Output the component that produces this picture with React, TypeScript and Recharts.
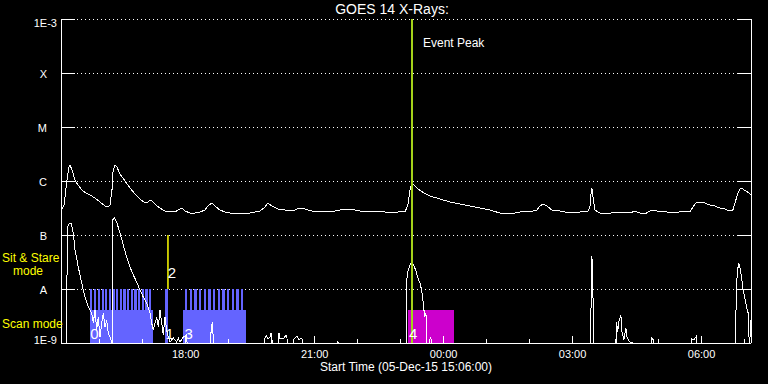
import React from "react";
import {
  ComposedChart,
  Line,
  XAxis,
  YAxis,
  CartesianGrid,
  ReferenceArea,
  ReferenceLine,
  ReferenceDot,
} from "recharts";

// time axis: hours after 05-Dec-15 15:06:00
const timeDomain = [0, 16.05];
const hourTicks = [0.9, 1.9, 2.9, 3.9, 4.9, 5.9, 6.9, 7.9, 8.9, 9.9, 10.9, 11.9, 12.9, 13.9, 14.9, 15.9];
const hourLabels = ["16:00", "17:00", "18:00", "19:00", "20:00", "21:00", "22:00", "23:00", "00:00", "01:00", "02:00", "03:00", "04:00", "05:00", "06:00", "07:00"];
const majorLabels = ["18:00", "21:00", "00:00", "03:00", "06:00"];

const fluxTicks = [1e-9, 1e-8, 1e-7, 1e-6, 1e-5, 1e-4, 1e-3];
const fluxLabels = ["1E-9", "A", "B", "C", "M", "X", "1E-3"];

// GOES long channel (1-8 A)
const longTime = [0, 0.07, 0.14, 0.186, 0.209, 0.256, 0.326, 0.395, 0.488, 0.581, 0.674, 0.791, 0.907, 1.023, 1.093, 1.14, 1.186, 1.209, 1.256, 1.302, 1.372, 1.488, 1.605, 1.721, 1.837, 1.93, 2.0, 2.07, 2.116, 2.209, 2.302, 2.419, 2.535, 2.651, 2.767, 2.814, 2.884, 3.0, 3.116, 3.233, 3.349, 3.419, 3.512, 3.581, 3.698, 3.814, 3.93, 4.163, 4.395, 4.512, 4.628, 4.744, 4.814, 4.907, 5.047, 5.209, 5.372, 5.558, 5.674, 5.837, 6.023, 6.256, 6.488, 6.721, 6.953, 7.186, 7.419, 7.651, 7.837, 8.0, 8.07, 8.116, 8.163, 8.209, 8.302, 8.442, 8.581, 8.814, 9.047, 9.279, 9.512, 9.744, 9.977, 10.209, 10.442, 10.674, 10.907, 11.07, 11.14, 11.209, 11.302, 11.419, 11.605, 11.837, 12.07, 12.256, 12.302, 12.326, 12.349, 12.372, 12.419, 12.535, 12.698, 12.884, 13.0, 13.116, 13.233, 13.349, 13.465, 13.581, 13.698, 13.814, 13.93, 14.047, 14.163, 14.395, 14.628, 14.698, 14.767, 14.86, 14.977, 15.093, 15.209, 15.326, 15.442, 15.558, 15.628, 15.698, 15.744, 15.791, 15.86, 15.93, 16.0, 16.047];
const longFlux = [2.78e-7, 3.59e-7, 1.04e-6, 1.82e-6, 1.98e-6, 1.6e-6, 1.04e-6, 8.43e-7, 6.81e-7, 6.0e-7, 5.51e-7, 4.84e-7, 4.09e-7, 3.44e-7, 3.3e-7, 3.59e-7, 6.81e-7, 1.47e-6, 1.98e-6, 1.82e-6, 1.35e-6, 1.0e-6, 7.41e-7, 5.74e-7, 4.64e-7, 4.09e-7, 3.92e-7, 4.45e-7, 4.27e-7, 3.59e-7, 3.16e-7, 2.78e-7, 2.67e-7, 2.67e-7, 3.03e-7, 3.16e-7, 2.78e-7, 2.55e-7, 2.55e-7, 2.67e-7, 2.9e-7, 3.44e-7, 3.92e-7, 3.44e-7, 2.9e-7, 2.67e-7, 2.55e-7, 2.55e-7, 2.55e-7, 2.67e-7, 2.78e-7, 3.3e-7, 3.92e-7, 3.44e-7, 3.03e-7, 2.9e-7, 2.78e-7, 3.16e-7, 3.03e-7, 2.78e-7, 2.78e-7, 2.67e-7, 2.9e-7, 3.03e-7, 2.78e-7, 2.67e-7, 2.78e-7, 2.55e-7, 2.67e-7, 2.67e-7, 3.59e-7, 6.81e-7, 9.18e-7, 8.43e-7, 7.11e-7, 6.0e-7, 5.28e-7, 4.64e-7, 4.09e-7, 3.75e-7, 3.44e-7, 3.16e-7, 2.9e-7, 2.55e-7, 2.45e-7, 2.67e-7, 2.67e-7, 2.9e-7, 3.44e-7, 3.75e-7, 3.44e-7, 2.9e-7, 2.78e-7, 2.55e-7, 2.67e-7, 2.78e-7, 3.16e-7, 5.51e-7, 7.41e-7, 5.28e-7, 2.9e-7, 2.55e-7, 2.45e-7, 2.67e-7, 2.55e-7, 2.67e-7, 2.55e-7, 2.78e-7, 2.55e-7, 2.45e-7, 2.78e-7, 2.9e-7, 2.67e-7, 2.78e-7, 2.55e-7, 2.67e-7, 2.67e-7, 3.3e-7, 3.92e-7, 3.92e-7, 3.92e-7, 3.59e-7, 3.44e-7, 3.16e-7, 3.03e-7, 2.78e-7, 2.9e-7, 4.45e-7, 6.0e-7, 7.11e-7, 7.11e-7, 6.53e-7, 6.0e-7, 5.51e-7];

// GOES short channel (0.5-4 A); 5e-10 marks values under the plot floor
const shortTime = [0, 0.128, 0.147, 0.186, 0.233, 0.286, 0.326, 0.402, 0.481, 0.558, 0.635, 0.714, 0.751, 0.791, 0.83, 0.867, 0.907, 0.947, 0.984, 1.023, 1.063, 1.1, 1.14, 1.179, 1.186, 1.198, 1.24, 1.295, 1.372, 1.449, 1.528, 1.605, 1.681, 1.76, 1.837, 1.914, 1.993, 2.07, 2.109, 2.147, 2.226, 2.263, 2.302, 2.342, 2.379, 2.419, 2.458, 2.495, 2.535, 2.612, 2.691, 2.728, 2.767, 2.845, 2.923, 2.953, 3.465, 3.488, 3.519, 3.535, 3.558, 4.721, 4.744, 4.779, 4.814, 4.86, 4.884, 4.907, 4.93, 5.058, 5.07, 5.093, 5.186, 5.233, 5.256, 5.302, 5.419, 5.488, 5.535, 5.605, 5.651, 6.43, 6.442, 6.465, 8.023, 8.04, 8.077, 8.14, 8.193, 8.249, 8.295, 8.349, 8.388, 8.426, 8.442, 8.465, 8.481, 8.505, 8.519, 8.581, 8.605, 8.628, 12.309, 12.319, 12.349, 12.372, 12.388, 12.914, 12.923, 12.947, 12.977, 13.023, 13.047, 13.093, 13.14, 13.17, 13.233, 13.302, 13.326, 13.721, 13.744, 13.779, 13.814, 14.663, 14.674, 14.721, 14.784, 14.802, 15.686, 15.691, 15.714, 15.737, 15.767, 15.791, 15.83, 15.867, 15.907, 15.947, 15.984, 16.0, 16.016, 16.035, 16.047];
const shortFlux = [5e-10, 5e-10, 1.4e-7, 1.6e-7, 1.67e-7, 1.09e-7, 5.28e-8, 2.55e-8, 1.29e-8, 7.11e-9, 4.64e-9, 3.59e-9, 2.35e-9, 4.09e-9, 1.74e-9, 3.03e-9, 1.29e-9, 2.35e-9, 3.59e-9, 1.98e-9, 2.67e-9, 1.53e-9, 1.29e-9, 1.04e-9, 5e-10, 1.9e-7, 2.07e-7, 1.74e-7, 1.09e-7, 6.53e-8, 3.9e-8, 2.55e-8, 1.82e-8, 1.35e-8, 9.58e-9, 7.11e-9, 5.51e-9, 3.59e-9, 2.35e-9, 1.74e-9, 3.03e-9, 1.98e-9, 4.09e-9, 2.35e-9, 1.41e-9, 3.03e-9, 1.74e-9, 1.29e-9, 1.04e-9, 1.24e-9, 1.04e-9, 1.24e-9, 1.04e-9, 1.29e-9, 1.41e-9, 5e-10, 5e-10, 1.53e-9, 2.45e-9, 1.53e-9, 5e-10, 5e-10, 1.24e-9, 1.35e-9, 1.19e-9, 1.29e-9, 1.53e-9, 1.19e-9, 5e-10, 5e-10, 1.53e-9, 1.19e-9, 1.24e-9, 1.41e-9, 1.24e-9, 5e-10, 1.19e-9, 1.35e-9, 1.14e-9, 1.24e-9, 5e-10, 5e-10, 1.09e-9, 5e-10, 5e-10, 1.47e-8, 2.25e-8, 3.03e-8, 2.9e-8, 2.25e-8, 1.67e-8, 1.29e-8, 9.58e-9, 5.51e-9, 4.09e-9, 3.03e-9, 3.59e-9, 2.9e-9, 5e-10, 1.19e-9, 1.29e-9, 5e-10, 5e-10, 1.6e-9, 4.09e-8, 1.29e-8, 5e-10, 5e-10, 2.45e-9, 1.6e-9, 2.5e-9, 3.3e-9, 1.6e-9, 1.14e-9, 1.9e-9, 1.24e-9, 1.04e-9, 1.04e-9, 5e-10, 5e-10, 1.24e-9, 1.14e-9, 5e-10, 5e-10, 1.19e-9, 1.14e-9, 1.35e-9, 5e-10, 5e-10, 1.74e-9, 1.19e-8, 2.25e-8, 3.03e-8, 2.55e-8, 1.67e-8, 9.58e-9, 6.81e-9, 4.64e-9, 3.59e-9, 1.74e-9, 5e-10, 2.67e-9, 2.2e-9];

// observing modes
const scanLevel = 4.1e-9;
const sitStareLevel = 1e-8;
const scanBlocks = [[0.674, 2.14], [2.837, 4.302]];
const sitStareBlocks = [[2.419, 2.495]];
const sitStareStarts = [0.674, 0.767, 0.853, 0.947, 1.023, 1.109, 1.193, 1.279, 1.365, 1.449, 1.535, 1.621, 1.705, 1.791, 1.877, 1.961, 2.047, 2.884, 2.993, 3.1, 3.209, 3.319, 3.426, 3.535, 3.644, 3.751, 3.86, 3.97, 4.077, 4.186];
const sitStareWidth = 0.056;
const eventBlock = [8.07, 9.14];
const eventTime = 8.17;
const marker2Time = 2.488;

const obsLabels = ["0", "1", "2", "3", "4"];
const obsLabelTime = [0.78, 2.53, 2.58, 2.97, 8.19];
const obsLabelFlux = [1.5e-9, 1.5e-9, 2.0e-8, 1.5e-9, 1.5e-9];

const longData = longTime.map((t, i) => ({ t, v: longFlux[i] }));
const shortData = shortTime.map((t, i) => ({ t, v: shortFlux[i] }));

const FONT = "'Liberation Sans', Arial, sans-serif";

function BottomTick(props: any) {
  const { x, y, payload } = props;
  const label = hourLabels[hourTicks.indexOf(payload.value)];
  const major = majorLabels.includes(label);
  return (
    <g>
      <line x1={x} x2={x} y1={y} y2={y - (major ? 7 : 4)} stroke="#fff" shapeRendering="crispEdges" />
      {major && (
        <text x={x} y={y + 15} textAnchor="middle" fill="#fff" fontSize={11} fontFamily={FONT}>
          {label}
        </text>
      )}
    </g>
  );
}

function TopTick(props: any) {
  const { x, y, payload } = props;
  const label = hourLabels[hourTicks.indexOf(payload.value)];
  const major = majorLabels.includes(label);
  return <line x1={x} x2={x} y1={y} y2={y + (major ? 7 : 4)} stroke="#fff" shapeRendering="crispEdges" />;
}

function LeftTick(props: any) {
  const { x, y, payload } = props;
  const i = fluxTicks.indexOf(payload.value);
  const label = fluxLabels[i];
  const numeric = label.startsWith("1E");
  let ty = y + 4.5;
  if (i === 0) ty = y + 0.5;
  if (i === fluxTicks.length - 1) ty = y + 8;
  return (
    <g>
      <line x1={x} x2={x + 14} y1={y} y2={y} stroke="#fff" shapeRendering="crispEdges" />
      <text x={numeric ? x - 4 : x - 14} y={ty} textAnchor="end" fill="#fff" fontSize={11} fontFamily={FONT}>
        {label}
      </text>
    </g>
  );
}

function RightTick(props: any) {
  const { x, y } = props;
  return <line x1={x - 14} x2={x} y1={y} y2={y} stroke="#fff" shapeRendering="crispEdges" />;
}

export default function App() {
  return (
    <div style={{ position: "absolute", left: 0, top: 0, width: 768, height: 384, background: "#000", fontFamily: FONT }}>
      <ComposedChart width={768} height={384} margin={{ top: 19, right: 0, bottom: 0, left: 0 }}>
        <CartesianGrid vertical={false} stroke="#fff" strokeDasharray="1 3" shapeRendering="crispEdges" />
        <XAxis
          type="number"
          dataKey="t"
          domain={timeDomain}
          ticks={hourTicks}
          interval={0}
          allowDataOverflow
          height={41}
          tickSize={0}
          tickMargin={0}
          axisLine={{ stroke: "#fff", shapeRendering: "crispEdges" }}
          tickLine={false}
          tick={(p: any) => <BottomTick {...p} />}
        />
        <XAxis
          xAxisId="top"
          orientation="top"
          type="number"
          dataKey="t"
          domain={timeDomain}
          ticks={hourTicks}
          interval={0}
          allowDataOverflow
          height={0}
          tickSize={0}
          tickMargin={0}
          axisLine={{ stroke: "#fff", shapeRendering: "crispEdges" }}
          tickLine={false}
          tick={(p: any) => <TopTick {...p} />}
        />
        <YAxis
          type="number"
          scale="log"
          domain={[1e-9, 1e-3]}
          ticks={fluxTicks}
          interval={0}
          allowDataOverflow
          width={61}
          tickSize={0}
          tickMargin={0}
          axisLine={{ stroke: "#fff", shapeRendering: "crispEdges" }}
          tickLine={false}
          tick={(p: any) => <LeftTick {...p} />}
        />
        <YAxis
          yAxisId="right"
          orientation="right"
          type="number"
          scale="log"
          domain={[1e-9, 1e-3]}
          ticks={fluxTicks}
          interval={0}
          allowDataOverflow
          width={17}
          tickSize={0}
          tickMargin={0}
          axisLine={{ stroke: "#fff", shapeRendering: "crispEdges" }}
          tickLine={false}
          tick={(p: any) => <RightTick {...p} />}
        />

        {scanBlocks.map(([s, e], i) => (
          <ReferenceArea key={`scan${i}`} x1={s} x2={e} y1={1e-9} y2={scanLevel} fill="#6464ff" fillOpacity={1} stroke="none" shapeRendering="crispEdges" />
        ))}
        {sitStareBlocks.map(([s, e], i) => (
          <ReferenceArea key={`ss${i}`} x1={s} x2={e} y1={1e-9} y2={sitStareLevel} fill="#6464ff" fillOpacity={1} stroke="none" shapeRendering="crispEdges" />
        ))}
        {sitStareStarts.map((s, i) => (
          <ReferenceArea key={`st${i}`} x1={s} x2={s + sitStareWidth} y1={scanLevel} y2={sitStareLevel} fill="#6464ff" fillOpacity={1} stroke="none" shapeRendering="crispEdges" />
        ))}
        <ReferenceArea x1={eventBlock[0]} x2={eventBlock[1]} y1={1e-9} y2={scanLevel} fill="#cc00cc" fillOpacity={1} stroke="none" shapeRendering="crispEdges" />
        <ReferenceLine
          segment={[
            { x: marker2Time, y: 1e-7 },
            { x: marker2Time, y: sitStareLevel },
          ]}
          stroke="#ffff00"
          strokeWidth={1.5}
        />

        <Line data={longData} dataKey="v" type="linear" stroke="#fff" strokeWidth={1} dot={false} isAnimationActive={false} shapeRendering="crispEdges" />
        <Line data={shortData} dataKey="v" type="linear" stroke="#fff" strokeWidth={1} dot={false} isAnimationActive={false} shapeRendering="crispEdges" />

        <ReferenceLine x={eventTime} stroke="#a4d21a" strokeWidth={2} shapeRendering="crispEdges" />

        {obsLabels.map((lab, i) => (
          <ReferenceDot
            key={`lab${i}`}
            x={obsLabelTime[i]}
            y={obsLabelFlux[i]}
            r={0}
            fill="none"
            stroke="none"
            label={{ value: lab, position: "center", fill: "#fff", fontSize: 15, fontFamily: FONT }}
          />
        ))}
      </ComposedChart>
      <svg width={768} height={384} style={{ position: "absolute", left: 0, top: 0, pointerEvents: "none" }}>
        <text x={392} y={14} textAnchor="middle" fill="#fff" fontSize={14} fontFamily={FONT}>
          GOES 14 X-Rays:
        </text>
        <text x={406} y={371} textAnchor="middle" fill="#fff" fontSize={12} fontFamily={FONT}>
          Start Time (05-Dec-15 15:06:00)
        </text>
        <text x={423} y={47} fill="#fff" fontSize={12} fontFamily={FONT}>
          Event Peak
        </text>
        <text x={2} y={262} fill="#ffff00" fontSize={12} fontFamily={FONT}>
          Sit &amp; Stare
        </text>
        <text x={13} y={275} fill="#ffff00" fontSize={12} fontFamily={FONT}>
          mode
        </text>
        <text x={2} y={328} fill="#ffff00" fontSize={12} fontFamily={FONT}>
          Scan mode
        </text>
      </svg>
    </div>
  );
}
